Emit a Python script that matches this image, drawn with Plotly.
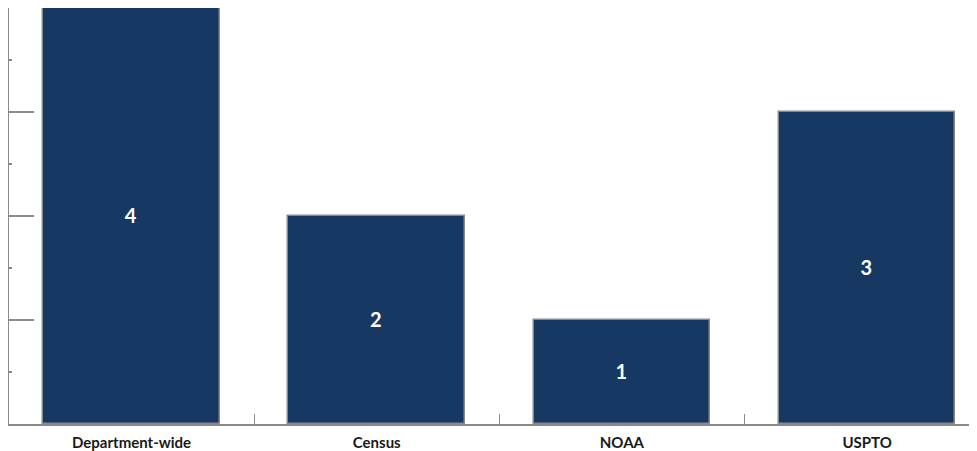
import plotly.graph_objects as go

categories = ["Department-wide", "Census", "NOAA", "USPTO"]
values = [4, 2, 1, 3]

xpos = list(range(len(categories)))

fig = go.Figure(go.Bar(
    x=xpos, y=values, width=0.72,
    marker=dict(color="#173862", line=dict(color="#8a8a8a", width=1.5)),
    text=[str(v) for v in values], textposition="inside", insidetextanchor="middle",
    textfont=dict(color="white", size=20, family="Lato"),
    texttemplate="<b>%{text}</b>",
))

fig.update_layout(
    width=977, height=443, margin=dict(l=1, r=0, t=0, b=27, autoexpand=False),
    plot_bgcolor="white", paper_bgcolor="white", showlegend=False, bargap=0,
    xaxis=dict(
        range=[-0.5, 3.481], tickmode="array", tickvals=xpos,
        ticktext=["<b>%s</b>" % c for c in categories], ticks="",
        tickfont=dict(size=15, color="#1a1a1a", family="Lato"),
        showline=True, linecolor="#8a8a8a", linewidth=1.5, showgrid=False, zeroline=False,
        minor=dict(tickmode="array", tickvals=[0.5, 1.5, 2.5], ticks="inside", ticklen=10,
                   tickcolor="#8a8a8a", tickwidth=1, showgrid=False),
        ticklabelstandoff=4, automargin=False,
    ),
    yaxis=dict(
        range=[0, 4], tickmode="array", tickvals=[1, 2, 3, 4], showticklabels=False,
        ticks="inside", ticklen=25, tickcolor="#8a8a8a", tickwidth=1.5,
        showline=True, linecolor="#8a8a8a", linewidth=1.5, showgrid=False, zeroline=False,
        minor=dict(tickmode="array", tickvals=[0.5, 1.5, 2.5, 3.5], ticks="inside", ticklen=3,
                   tickcolor="#8a8a8a", tickwidth=1.5, showgrid=False),
        automargin=False,
    ),
)

fig.write_html("out.html")
